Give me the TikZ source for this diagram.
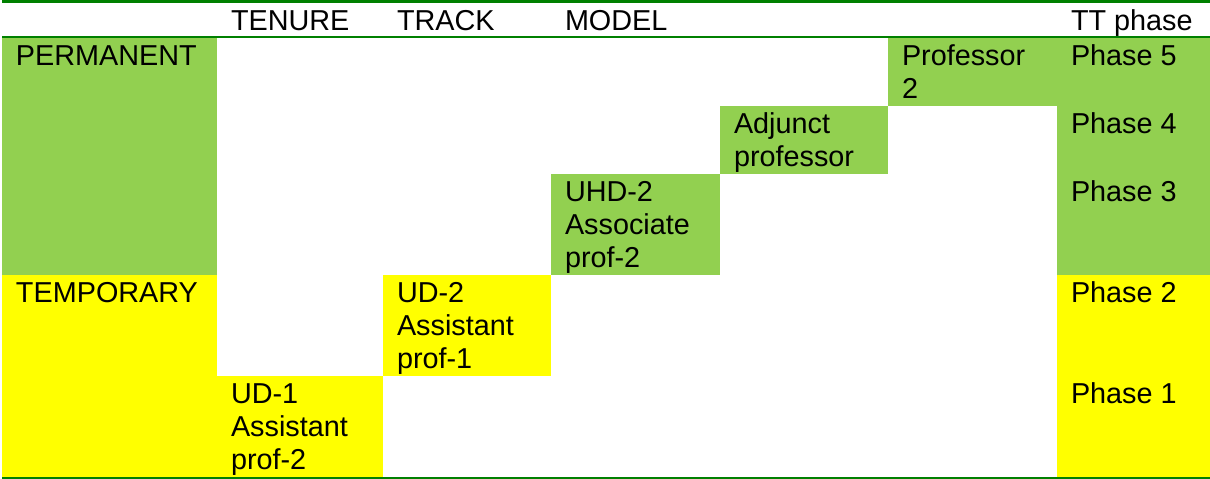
\documentclass[tikz,border=0pt]{standalone}
\usepackage{fontspec}
\setmainfont{Liberation Sans}
\definecolor{lgreen}{HTML}{92D050}
\definecolor{ylw}{HTML}{FFFF00}
\definecolor{dgreen}{HTML}{008000}
\begin{document}
\begin{tikzpicture}[x=1pt,y=-1pt,
  cellbox/.style={draw=none, inner sep=0pt, outer sep=0pt, anchor=north west},
  gcell/.style={cellbox, fill=lgreen},
  ycell/.style={cellbox, fill=ylw},
  txt/.style={anchor=base west, inner sep=0pt, outer sep=0pt, align=left,
    font=\fontsize{28.8}{33.3}\selectfont, text=black},
  rule/.style={draw=dgreen}]
\useasboundingbox[fill=white] (0,0) rectangle (1210,479);
% cells
\node[gcell, minimum width=215pt, minimum height=237pt] (perm) at (2,38) {};
\node[ycell, minimum width=215pt, minimum height=202pt] (temp) at (2,275) {};
\node[ycell, minimum width=166pt, minimum height=101pt] (ud1) at (217,376) {};
\node[ycell, minimum width=168pt, minimum height=101pt] (ud2) at (383,275) {};
\node[gcell, minimum width=169pt, minimum height=101pt] (uhd) at (551,174) {};
\node[gcell, minimum width=168pt, minimum height=68pt] (adj) at (720,106) {};
\node[gcell, minimum width=169pt, minimum height=68pt] (prof) at (888,38) {};
\node[gcell, minimum width=153pt, minimum height=237pt] (phg) at (1057,38) {};
\node[ycell, minimum width=153pt, minimum height=202pt] (phy) at (1057,275) {};
% rules
\coordinate (t1) at (2,1.65); \coordinate (t2) at (1210,1.65);
\coordinate (h1) at (2,37.2); \coordinate (h2) at (1210,37.2);
\coordinate (b1) at (2,477.8); \coordinate (b2) at (1210,477.8);
\draw[rule, line width=3.3pt] (t1) -- (t2);
\draw[rule, line width=1.7pt] (h1) -- (h2);
\draw[rule, line width=2.5pt] (b1) -- (b2);
% header
\node[txt] (hTen) at (231,30.5) {TENURE};
\node[txt] (hTrk) at (397,30.5) {TRACK};
\node[txt] (hMod) at (565,30.5) {MODEL};
\node[txt] (hTT) at (1071,30.5) {TT phase};
% texts (base anchor = baseline of the last line)
\node[txt] (tPerm) at (16,65) {PERMANENT};
\node[txt] (tTemp) at (16,302) {TEMPORARY};
\node[txt] (tUd1) at (231,469.6) {UD-1\\Assistant\\prof-2};
\node[txt] (tUd2) at (397,368.6) {UD-2\\Assistant\\prof-1};
\node[txt] (tUhd) at (565,267.6) {UHD-2\\Associate\\prof-2};
\node[txt] (tAdj) at (734,166.3) {Adjunct\\professor};
\node[txt] (tProf) at (902,98.3) {Professor\\2};
\node[txt] (p5) at (1071,65) {Phase 5};
\node[txt] (p4) at (1071,133) {Phase 4};
\node[txt] (p3) at (1071,201) {Phase 3};
\node[txt] (p2) at (1071,302) {Phase 2};
\node[txt] (p1) at (1071,403) {Phase 1};
\end{tikzpicture}
\end{document}
